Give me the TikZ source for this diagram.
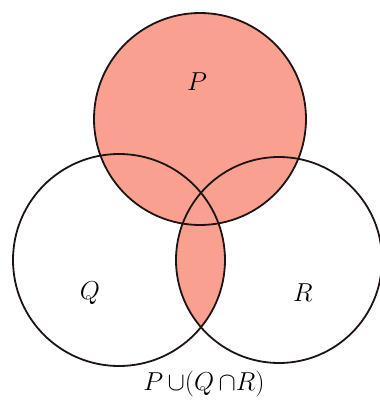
\documentclass[tikz,border=0pt]{standalone}
\usepackage{amsmath,amssymb}
\usepackage{tikz}

\definecolor{vennfill}{RGB}{250,160,145}
\definecolor{ink}{RGB}{30,20,20}

\begin{document}
\begin{tikzpicture}[x=1pt, y=-1pt, every node/.style={font=\huge, scale=1.25}, venn/.style={draw=ink, line width=1.8pt}]
	\useasboundingbox (0,0) rectangle (380,407);
	\coordinate (cP) at (200,119);
	\coordinate (cQ) at (119,260);
	\coordinate (cR) at (279,260);
	% shaded region
	\fill[vennfill] (cP) circle (106);
	\begin{scope}
		\clip (cQ) circle (106);
		\fill[vennfill] (cR) circle (103);
	\end{scope}
	\foreach \c/\r in {cP/106,cQ/106,cR/103} {
		\draw[venn] (\c) circle (\r);
	}
	\node (lP) at (197,82) {$P$};
	\node (lQ) at (90,293) {$Q$};
	\node (lR) at (303,293) {$R$};
	\node (cap) at (204,384) {$P\,{\cup}(Q\,{\cap}R)$};
	
\end{tikzpicture}
\end{document}
